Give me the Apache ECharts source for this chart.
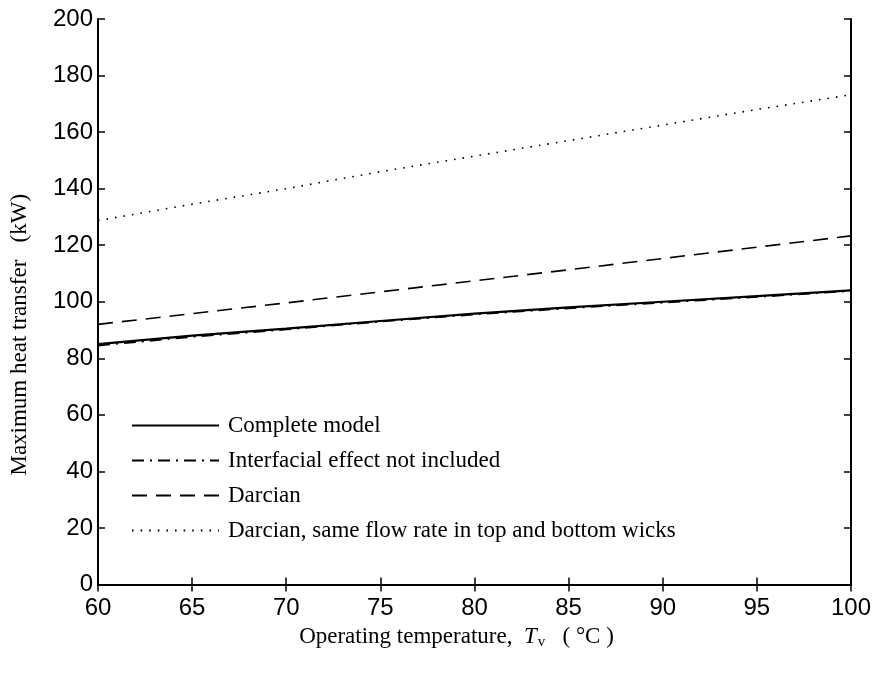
<!DOCTYPE html>
<html><head><meta charset="utf-8">
<script src="https://cdn.jsdelivr.net/npm/echarts@6/dist/echarts.min.js"></script>
<style>html,body{margin:0;padding:0;background:#fff}#c{width:874px;height:674px}</style>
</head><body><div id="c"></div>
<script>
const temps = [60, 65, 70, 75, 80, 85, 90, 95, 100];
const completeModel = [85, 88, 90.5, 93.2, 95.8, 98, 100, 102, 104];
const interfacialNotIncluded = [84.5, 87.6, 90.2, 93, 95.5, 97.7, 99.7, 101.7, 103.8];
const darcian = [92, 95.8, 99.6, 103.5, 107.4, 111.3, 115.3, 119.3, 123.3];
const darcianSameFlow = [128.7, 134.5, 140, 146, 151.5, 157, 162.5, 168, 173.2];
const seriesNames = ['Complete model', 'Interfacial effect not included', 'Darcian', 'Darcian, same flow rate in top and bottom wicks'];

const pair = arr => temps.map((t, i) => [t, arr[i]]);
const chart = echarts.init(document.getElementById('c'), null, {renderer: 'canvas'});
const tickFont = {fontFamily: 'Liberation Sans', fontSize: 24, color: '#000'};
const serif = 'Liberation Serif';
const axisCommon = {
  axisLine: {show: true, lineStyle: {color: '#000', width: 2}},
  axisTick: {show: true, inside: true, length: 7, lineStyle: {color: '#000', width: 1.5}},
  splitLine: {show: false}
};
chart.setOption({
  animation: false,
  grid: {left: 97, right: 23, top: 19, bottom: 89.5, show: false},
  legend: {
    orient: 'vertical', left: 126, top: 409, itemWidth: 87, itemHeight: 20, itemGap: 15 - 3,
    itemStyle: {opacity: 0},
    textStyle: {fontFamily: serif, fontSize: 23, lineHeight: 20, color: '#000', padding: [0, 0, 0, 4]},
    data: seriesNames
  },
  xAxis: [
    Object.assign({type: 'value', min: 60, max: 100, interval: 5, position: 'bottom',
      axisLabel: Object.assign({margin: 12}, tickFont),
      name: '{a|Operating temperature,  }{i|T}{s|v}{a|   ( °C )}',
      nameLocation: 'middle', nameGap: 35,
      nameTextStyle: {padding: [0, 36, 0, 0], rich: {
        a: {fontFamily: serif, fontSize: 23, color: '#000'},
        i: {fontFamily: serif, fontSize: 23, fontStyle: 'italic', color: '#000'},
        s: {fontFamily: serif, fontSize: 15, color: '#000', verticalAlign: 'bottom', padding: [10, 0, 0, 1]}
      }}
    }, axisCommon),
    Object.assign({type: 'value', min: 60, max: 100, interval: 5, position: 'top',
      axisLabel: {show: false}}, axisCommon)
  ],
  yAxis: [
    Object.assign({type: 'value', min: 0, max: 200, interval: 20, position: 'left',
      axisLabel: Object.assign({margin: 5}, tickFont),
      name: 'Maximum heat transfer   (kW)', nameLocation: 'middle', nameGap: 67,
      nameTextStyle: {fontFamily: serif, fontSize: 23, color: '#000', padding: [0, 66, 0, 0]}
    }, axisCommon),
    Object.assign({type: 'value', min: 0, max: 200, interval: 20, position: 'right',
      axisLabel: {show: false}}, axisCommon)
  ],
  series: [
    {name: seriesNames[0], type: 'line', data: pair(completeModel), showSymbol: false, symbol: 'none',
      lineStyle: {color: '#000', width: 2.2, type: 'solid'}, itemStyle: {color: '#000'}},
    {name: seriesNames[1], type: 'line', data: pair(interfacialNotIncluded), showSymbol: false, symbol: 'none',
      lineStyle: {color: '#000', width: 1.8, type: [12, 6, 2, 6]}, itemStyle: {color: '#000'}},
    {name: seriesNames[2], type: 'line', data: pair(darcian), showSymbol: false, symbol: 'none',
      lineStyle: {color: '#000', width: 1.6, type: [15, 9]}, itemStyle: {color: '#000'}},
    {name: seriesNames[3], type: 'line', data: pair(darcianSameFlow), showSymbol: false, symbol: 'none',
      lineStyle: {color: '#000', width: 1.6, type: [1.6, 7]}, itemStyle: {color: '#000'}}
  ]
});
</script></body></html>
